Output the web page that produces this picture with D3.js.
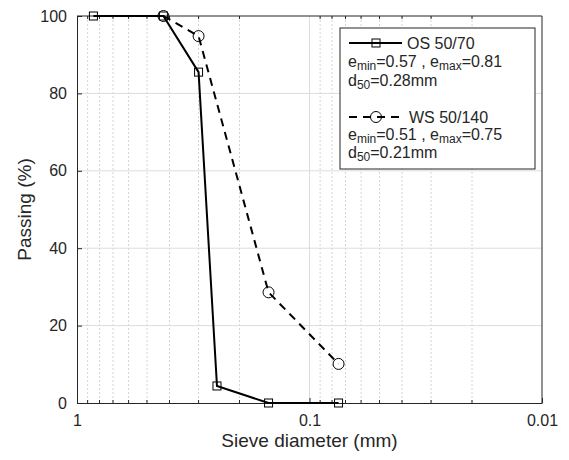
<!DOCTYPE html>
<html>
<head>
<meta charset="utf-8">
<script src="https://cdn.jsdelivr.net/npm/d3@7"></script>
<style>
  body { margin: 0; background: #fff; }
  text { font-family: "Liberation Sans", Arial, sans-serif; fill: #262626; }
</style>
</head>
<body>
<div id="chart"></div>
<script>
// sieve sizes (mm) and percent passing
const osSizes = [0.85, 0.425, 0.3, 0.25, 0.15, 0.075];
const osPassing = [100, 100, 85.5, 4.4, 0, 0];
const wsSizes = [0.425, 0.3, 0.15, 0.075];
const wsPassing = [100, 94.8, 28.6, 10.1];
const xTicks = [1, 0.1, 0.01];
const yTicks = [0, 20, 40, 60, 80, 100];

const W = 569, H = 460;
const margin = { top: 16, right: 27, bottom: 57, left: 77 };
const iw = W - margin.left - margin.right;
const ih = H - margin.top - margin.bottom;

const svg = d3.select('#chart').append('svg')
  .attr('width', W).attr('height', H);

const g = svg.append('g')
  .attr('transform', `translate(${margin.left},${margin.top})`);

// reversed log axis: 1 on the left, 0.01 on the right
const x = d3.scaleLog().domain([1, 0.01]).range([0, iw]);
const y = d3.scaleLinear().domain([0, 100]).range([ih, 0]);

// minor grid (dotted)
const minor = [];
[0.1, 0.01].forEach(dec => {
  for (let k = 2; k <= 9; k++) minor.push(dec * k);
});
g.selectAll('.minor-grid')
  .data(minor)
  .enter().append('line')
    .attr('class', 'minor-grid')
    .attr('x1', d => x(d)).attr('x2', d => x(d))
    .attr('y1', 0).attr('y2', ih)
    .attr('stroke', '#d4d4d4')
    .attr('stroke-dasharray', '2,2')
    .attr('stroke-width', 1);

// major grid
g.selectAll('.vgrid')
  .data([0.1])
  .enter().append('line')
    .attr('x1', d => x(d)).attr('x2', d => x(d))
    .attr('y1', 0).attr('y2', ih)
    .attr('stroke', '#dcdcdc');
g.selectAll('.hgrid')
  .data(yTicks.slice(1, -1))
  .enter().append('line')
    .attr('x1', 0).attr('x2', iw)
    .attr('y1', d => y(d)).attr('y2', d => y(d))
    .attr('stroke', '#dcdcdc');

// axes
const xAxis = d3.axisBottom(x).tickValues(xTicks).tickFormat(d3.format('')).tickSizeInner(-5).tickSizeOuter(0).tickPadding(12);
const yAxis = d3.axisLeft(y).tickValues(yTicks).tickSizeInner(-5).tickSizeOuter(0).tickPadding(10);

const gx = g.append('g').attr('transform', `translate(0,${ih})`).call(xAxis);
const gy = g.append('g').call(yAxis);
[gx, gy].forEach(a => {
  a.select('.domain').attr('stroke', '#262626');
  a.selectAll('.tick line').attr('stroke', '#262626');
  a.selectAll('.tick text').style('font-size', '16px').attr('fill', '#262626');
});

// minor ticks on bottom and top
g.selectAll('.mtick-b')
  .data(minor)
  .enter().append('line')
    .attr('x1', d => x(d)).attr('x2', d => x(d))
    .attr('y1', ih).attr('y2', ih - 3)
    .attr('stroke', '#262626');
g.selectAll('.mtick-t')
  .data(minor)
  .enter().append('line')
    .attr('x1', d => x(d)).attr('x2', d => x(d))
    .attr('y1', 0).attr('y2', 3)
    .attr('stroke', '#262626');

// box top / right
g.append('line').attr('x1', 0).attr('x2', iw).attr('y1', 0).attr('y2', 0).attr('stroke', '#262626');
g.append('line').attr('x1', iw).attr('x2', iw).attr('y1', 0).attr('y2', ih).attr('stroke', '#262626');

// axis labels
svg.append('text')
  .attr('x', margin.left + iw / 2).attr('y', 447)
  .attr('text-anchor', 'middle')
  .style('font-size', '19px')
  .text('Sieve diameter (mm)');
svg.append('text')
  .attr('transform', `translate(31,${margin.top + ih / 2}) rotate(-90)`)
  .attr('text-anchor', 'middle')
  .style('font-size', '19px')
  .text('Passing (%)');

const line = d3.line().x(d => x(d[0])).y(d => y(d[1]));
const osData = osSizes.map((s, i) => [s, osPassing[i]]);
const wsData = wsSizes.map((s, i) => [s, wsPassing[i]]);

g.append('path')
  .datum(wsData)
  .attr('d', line)
  .attr('fill', 'none').attr('stroke', '#000')
  .attr('stroke-width', 2).attr('stroke-dasharray', '8,6');
g.selectAll('.ws-pt')
  .data(wsData)
  .enter().append('circle')
    .attr('cx', d => x(d[0])).attr('cy', d => y(d[1]))
    .attr('r', 5.5)
    .attr('fill', 'none').attr('stroke', '#000').attr('stroke-width', 1);

g.append('path')
  .datum(osData)
  .attr('d', line)
  .attr('fill', 'none').attr('stroke', '#000')
  .attr('stroke-width', 2);
g.selectAll('.os-pt')
  .data(osData)
  .enter().append('rect')
    .attr('x', d => x(d[0]) - 4).attr('y', d => y(d[1]) - 4)
    .attr('width', 8).attr('height', 8)
    .attr('fill', 'none').attr('stroke', '#000').attr('stroke-width', 1);

// legend
const leg = svg.append('g').attr('transform', 'translate(340,28)');
leg.append('rect')
  .attr('width', 195).attr('height', 141)
  .attr('fill', '#fff').attr('stroke', '#262626');

leg.append('line').attr('x1', 9).attr('x2', 62).attr('y1', 15).attr('y2', 15)
  .attr('stroke', '#000').attr('stroke-width', 2);
leg.append('rect').attr('x', 32).attr('y', 11).attr('width', 8).attr('height', 8)
  .attr('fill', 'none').attr('stroke', '#000');

leg.append('line').attr('x1', 9).attr('x2', 62).attr('y1', 89).attr('y2', 89)
  .attr('stroke', '#000').attr('stroke-width', 2).attr('stroke-dasharray', '8,6');
leg.append('circle').attr('cx', 36).attr('cy', 89).attr('r', 5.5)
  .attr('fill', 'none').attr('stroke', '#000');

const legText = (yy, xx) => leg.append('text').attr('x', xx).attr('y', yy).style('font-size', '16px').attr('fill', '#000');

legText(21, 67).text('OS 50/70');
let t = legText(39, 8);
t.append('tspan').text('e');
t.append('tspan').attr('dy', 3).style('font-size', '12px').text('min');
t.append('tspan').attr('dy', -3).text('=0.57 , e');
t.append('tspan').attr('dy', 3).style('font-size', '12px').text('max');
t.append('tspan').attr('dy', -3).text('=0.81');
t = legText(58, 8);
t.append('tspan').text('d');
t.append('tspan').attr('dy', 3).style('font-size', '12px').text('50');
t.append('tspan').attr('dy', -3).text('=0.28mm');

legText(95, 69).text('WS 50/140');
t = legText(112, 8);
t.append('tspan').text('e');
t.append('tspan').attr('dy', 3).style('font-size', '12px').text('min');
t.append('tspan').attr('dy', -3).text('=0.51 , e');
t.append('tspan').attr('dy', 3).style('font-size', '12px').text('max');
t.append('tspan').attr('dy', -3).text('=0.75');
t = legText(130, 8);
t.append('tspan').text('d');
t.append('tspan').attr('dy', 3).style('font-size', '12px').text('50');
t.append('tspan').attr('dy', -3).text('=0.21mm');
</script>
</body>
</html>
